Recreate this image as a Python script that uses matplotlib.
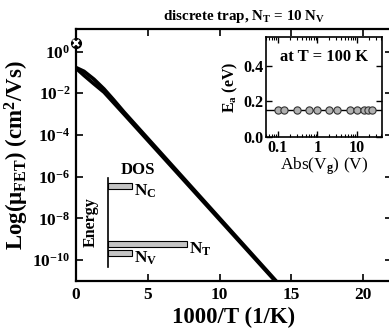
import numpy as np
import matplotlib
matplotlib.use('Agg')
import matplotlib.pyplot as plt
from matplotlib.ticker import FuncFormatter, LogLocator, NullFormatter

plt.rcParams['font.family'] = ['Liberation Serif', 'DejaVu Serif']
plt.rcParams['font.weight'] = 'bold'
plt.rcParams['mathtext.fontset'] = 'custom'
plt.rcParams['mathtext.rm'] = 'Liberation Serif'
plt.rcParams['mathtext.it'] = 'Liberation Serif:italic'
plt.rcParams['mathtext.bf'] = 'Liberation Serif:bold'

# mobility vs 1000/T (two nearly coincident curves)
inv_T_upper = [0.0, 0.56, 1.25, 1.95, 2.6, 3.34, 14.0]
mu_upper = [1.7e-1, 1.12e-1, 4.7e-2, 1.6e-2, 5.0e-3, 1.26e-3, 8.9e-12]
inv_T_lower = [0.0, 0.56, 1.25, 1.95, 3.34, 14.0]
mu_lower = [1.58e-1, 7.1e-2, 2.8e-2, 1.12e-2, 1.0e-3, 7.9e-12]
# crossed marker at 1000/T = 0
mark_x = [0.0]
mark_y = [2.7]

# inset: activation energy vs |Vg|
vg = [0.1, 0.14, 0.3, 0.6, 1.0, 2.0, 3.2, 6.5, 10, 15, 19, 24]
ea = [0.15, 0.15, 0.15, 0.15, 0.15, 0.15, 0.15, 0.15, 0.15, 0.15, 0.15, 0.15]

# density of states sketch
dos_labels = ['N$_{\\mathbf{C}}$', 'N$_{\\mathbf{T}}$', 'N$_{\\mathbf{V}}$']
dos_energy = [0.907, 0.258, 0.157]
dos_value = [1.0, 3.25, 1.0]

fig = plt.figure(figsize=(3.89, 3.36), dpi=100)
ax = fig.add_axes([0.1954, 0.1637, 0.8123, 0.7500])

ax.plot(inv_T_upper, mu_upper, color='black', lw=2.6, solid_capstyle='round')
ax.plot(inv_T_lower, mu_lower, color='black', lw=2.6, solid_capstyle='round')
ax.plot(mark_x, mark_y, 'o', ms=7, color='black', clip_on=False, zorder=5)
ax.plot(mark_x, mark_y, 'x', ms=4.5, mew=1.6, color='white', clip_on=False, zorder=6)

ax.set_yscale('log')
ax.set_xlim(0, 22)
ax.set_ylim(1e-11, 12)
ax.set_xticks([0, 5, 10, 15, 20])
ax.set_yticks([1e0, 1e-2, 1e-4, 1e-6, 1e-8, 1e-10])
ax.yaxis.set_minor_locator(matplotlib.ticker.NullLocator())
ax.yaxis.set_major_formatter(FuncFormatter(
    lambda v, p: r'$\mathbf{10^{%d}}$' % int(round(np.log10(v)))))
ax.tick_params(direction='in', length=5, width=1.2, top=True, right=True,
               labelsize=12.5, pad=4)
for s in ax.spines.values():
    s.set_linewidth(1.6)
ax.set_xlabel('1000/T (1/K)', fontsize=16.5, fontweight='bold', labelpad=3)
ax.set_ylabel('Log(\u03bc$_{\\mathbf{FET}}$) (cm$^{\\mathbf{2}}$/Vs)',
              fontsize=16.5, fontweight='bold', labelpad=1)
fig.text(0.627, 0.952, 'discrete trap, N$_{\\mathbf{T}}$ = 10 N$_{\\mathbf{V}}$',
         ha='center', va='center', fontsize=10.8, fontweight='bold')

# inset
ins = fig.add_axes([0.6838, 0.5923, 0.2982, 0.2976])
ins.axhline(ea[0], color='black', lw=1.0, zorder=1)
ins.plot(vg, ea, 'o', ms=5.2, mfc='#b0b0b0', mec='#333333', mew=0.8, zorder=2)
ins.set_xscale('log')
ins.set_xlim(0.05, 43)
ins.set_ylim(0, 0.56)
ins.set_xticks([0.1, 1, 10])
ins.set_xticklabels(['0.1', '1', '10'], fontweight='bold')
ins.xaxis.set_minor_locator(LogLocator(base=10, subs=np.arange(2, 10)))
ins.xaxis.set_minor_formatter(NullFormatter())
ins.set_yticks([0.0, 0.2, 0.4])
ins.set_yticklabels(['0.0', '0.2', '0.4'], fontweight='bold')
ins.tick_params(which='both', direction='in', top=True, right=True,
                labelsize=11.5, pad=2)
ins.tick_params(which='major', length=4, width=1)
ins.tick_params(which='minor', length=2, width=0.8)
for s in ins.spines.values():
    s.set_linewidth(1.2)
ins.set_xlabel('Abs(V$_{\\mathrm{g}}$) (V)', fontsize=12.5, fontweight='normal',
               labelpad=0)
ins.set_ylabel('E$_{\\mathbf{a}}$ (eV)', fontsize=11.5, fontweight='bold', labelpad=2)
ins.text(0.5, 0.8, 'at T = 100 K', transform=ins.transAxes, ha='center',
         va='center', fontsize=12, fontweight='bold')

# DOS sketch
dos = fig.add_axes([0.2764, 0.2054, 0.2378, 0.2649])
dos.barh(dos_energy, dos_value, height=0.067, left=0, color='#c4c4c4',
         edgecolor='black', linewidth=0.8)
dos.set_xlim(0, 3.8)
dos.set_ylim(0, 1)
dos.patch.set_visible(False)
for k in ['top', 'right', 'bottom']:
    dos.spines[k].set_visible(False)
dos.spines['left'].set_linewidth(1.2)
dos.set_xticks([])
dos.set_yticks([])
for lab, e, v in zip(dos_labels, dos_energy, dos_value):
    dos.text(v + 0.1, e - 0.06, lab, ha='left', va='center',
             fontsize=12.5, fontweight='bold')
dos.text(1.25, 1.09, 'DOS', ha='center', va='center', fontsize=12,
         fontweight='bold', transform=dos.transData)
dos.text(-0.18, 0.5, 'Energy', transform=dos.transAxes, rotation=90,
         ha='center', va='center', fontsize=11.5, fontweight='bold')

fig.savefig('out.png', dpi=100)
